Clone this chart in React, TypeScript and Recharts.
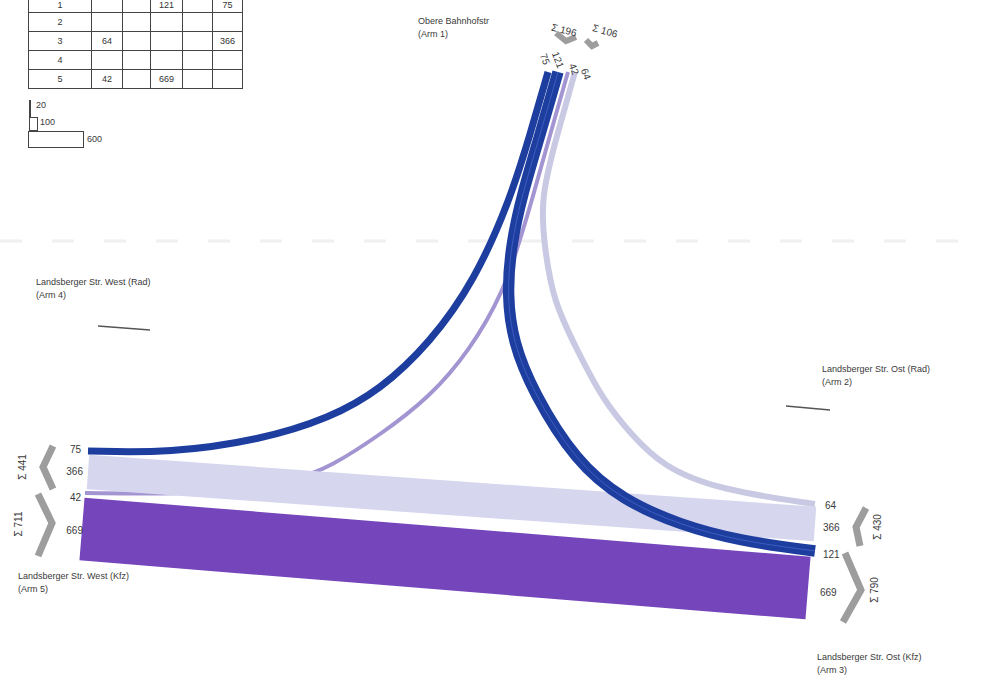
import React from 'react';
import { ComposedChart, XAxis, YAxis, Line, ReferenceLine } from 'recharts';

// count table (row = from arm, column = to arm)
const tableRows = ['1', '2', '3', '4', '5'];
const tableValues: (number | null)[][] = [
  [null, null, 121, null, 75],
  [null, null, null, null, null],
  [64, null, null, null, 366],
  [null, null, null, null, null],
  [42, null, 669, null, null],
];

// flows between arms
const flow13 = 121;
const flow15 = 75;
const flow31 = 64;
const flow35 = 366;
const flow51 = 42;
const flow53 = 669;

// scale legend values
const legendValues = [20, 100, 600];

// centre lines of each flow band, page pixels
const route15 = [
  [548, 72], [530, 135], [510, 200], [475, 280], [430, 343], [380, 390],
  [330, 418], [260, 440], [170, 453], [88, 451],
];
const route13 = [
  [558, 72], [540, 135], [522, 195], [511, 245], [507, 295], [513, 342],
  [533, 392], [576, 462], [623, 500], [680, 525], [740, 541], [815, 551],
];
const route31 = [
  [575, 72], [557, 135], [540, 200], [545, 250], [553, 300], [577, 350],
  [603, 400], [630, 433], [663, 467], [720, 490], [815, 504],
];
const route51 = [
  [85, 493], [180, 494], [250, 490], [300, 478], [330, 467], [380, 435],
  [430, 397], [470, 350], [503, 293], [520, 240], [532, 200], [550, 135], [568, 72],
];
const route35 = [[88, 472], [815, 524]];
const route53 = [[82, 529], [808, 588]];

// grey direction brackets
const bracketW441 = [[53, 446], [43, 467], [53, 489]];
const bracketW711 = [[38, 494], [52, 523], [38, 556]];
const bracketO430 = [[866, 508], [856, 527], [860, 546]];
const bracketO790 = [[845, 553], [861, 590], [843, 622]];
const bracketN196 = [[556, 33], [566, 41], [576, 37]];
const bracketN106 = [[586, 40], [592, 46], [598, 43]];
const radW = [[98, 326], [150, 330]];
const radO = [[786, 406], [830, 410]];

const PX = 0.094;

const pts = (r: number[][]) => r.map(([x, y]) => ({ x, y }));

const T: React.FC<{ x: number; y: number; rot?: number; size?: number; align?: string; children: React.ReactNode }> = ({ x, y, rot = 0, size = 10, align = 'center', children }) => {
  const tx = align === 'center' ? '-50%' : align === 'right' ? '-100%' : '0';
  return (
    <div
      style={{
        position: 'absolute',
        left: x,
        top: y,
        transform: `translate(${tx}, -50%) rotate(${rot}deg)`,
        fontSize: size,
        color: '#3a3a3a',
        whiteSpace: 'nowrap',
        lineHeight: 1.1,
      }}
    >
      {children}
    </div>
  );
};

const colW = [63, 31, 28, 32, 30, 30];

export default function App() {
  const flowLine = (key: string, r: number[][], v: number, color: string) => (
    <Line
      key={key}
      data={pts(r)}
      dataKey="y"
      type={r.length > 2 ? 'basis' : 'linear'}
      stroke={color}
      strokeWidth={v * PX}
      dot={false}
      activeDot={false}
      isAnimationActive={false}
    />
  );
  const bracket = (key: string, r: number[][], w = 7) => (
    <Line
      key={key}
      data={pts(r)}
      dataKey="y"
      type="linear"
      stroke="#9d9d9d"
      strokeWidth={w}
      dot={false}
      activeDot={false}
      isAnimationActive={false}
    />
  );
  const cell: React.CSSProperties = { border: '1px solid #444', textAlign: 'center', padding: 0, overflow: 'hidden' };
  return (
    <div style={{ position: 'absolute', left: 0, top: 0, width: 986, height: 680, fontFamily: '"Liberation Sans", Arial, sans-serif', background: '#fff', overflow: 'hidden' }}>
      <ComposedChart width={986} height={680} margin={{ top: 0, right: 0, bottom: 0, left: 0 }}>
        <XAxis type="number" dataKey="x" domain={[0, 986]} hide allowDataOverflow height={0} />
        <YAxis type="number" domain={[0, 680]} reversed hide allowDataOverflow width={0} />
        <ReferenceLine y={241} stroke="#f0f0f0" strokeWidth={3} strokeDasharray="22 30" />
        {flowLine('51', route51, flow51, '#a394d2')}
        {flowLine('35', route35, flow35, '#d6d6ee')}
        {flowLine('53', route53, flow53, '#7445bb')}
        {flowLine('31', route31, flow31, '#c9c9e3')}
        {flowLine('15', route15, flow15, '#1d3d9f')}
        {flowLine('13', route13, flow13, '#1d3d9f')}
        <Line data={pts(route13)} dataKey="y" type="basis" stroke="#5a7de0" strokeOpacity={0.5} strokeWidth={1} dot={false} activeDot={false} isAnimationActive={false} />
        {bracket('b1', bracketW441)}
        {bracket('b2', bracketW711)}
        {bracket('b3', bracketO430)}
        {bracket('b4', bracketO790)}
        {bracket('b5', bracketN196, 6)}
        {bracket('b6', bracketN106, 6)}
        <Line data={pts(radW)} dataKey="y" type="linear" stroke="#555" strokeWidth={1.5} dot={false} activeDot={false} isAnimationActive={false} />
        <Line data={pts(radO)} dataKey="y" type="linear" stroke="#555" strokeWidth={1.5} dot={false} activeDot={false} isAnimationActive={false} />
      </ComposedChart>

      {/* count table, its top edge runs off the page */}
      <table style={{ position: 'absolute', left: 28, top: -4, width: 214, tableLayout: 'fixed', borderCollapse: 'collapse', fontSize: 9, color: '#333' }}>
        <colgroup>
          {colW.map((w, i) => <col key={i} style={{ width: w }} />)}
        </colgroup>
        <tbody>
          {tableRows.map((r, i) => (
            <tr key={r} style={{ height: i === 0 ? 16 : 19 }}>
              <td style={cell}>{r}</td>
              {tableValues[i].map((v, j) => (
                <td key={j} style={cell}>{v ?? ''}</td>
              ))}
            </tr>
          ))}
        </tbody>
      </table>

      {/* scale legend */}
      <div style={{ position: 'absolute', left: 29, top: 100, width: legendValues[0] * PX, height: 17, background: '#444' }} />
      <div style={{ position: 'absolute', left: 29, top: 117, width: legendValues[1] * PX, height: 14, border: '1px solid #444', boxSizing: 'border-box' }} />
      <div style={{ position: 'absolute', left: 28, top: 131, width: legendValues[2] * PX, height: 17, border: '1px solid #444', boxSizing: 'border-box' }} />
      <T x={36} y={106} align="left" size={9}>{legendValues[0]}</T>
      <T x={40} y={123} align="left" size={9}>{legendValues[1]}</T>
      <T x={87} y={140} align="left" size={9}>{legendValues[2]}</T>

      {/* arm names */}
      <T x={418} y={22} align="left" size={9}>Obere Bahnhofstr</T>
      <T x={418} y={35} align="left" size={9}>(Arm 1)</T>
      <T x={36} y={283} align="left" size={9}>Landsberger Str. West (Rad)</T>
      <T x={36} y={296} align="left" size={9}>(Arm 4)</T>
      <T x={822} y={370} align="left" size={9}>Landsberger Str. Ost (Rad)</T>
      <T x={822} y={383} align="left" size={9}>(Arm 2)</T>
      <T x={18} y={577} align="left" size={9}>Landsberger Str. West (Kfz)</T>
      <T x={18} y={590} align="left" size={9}>(Arm 5)</T>
      <T x={817} y={658} align="left" size={9}>Landsberger Str. Ost (Kfz)</T>
      <T x={817} y={671} align="left" size={9}>(Arm 3)</T>

      {/* flow values, west */}
      <T x={81} y={449} align="right">{flow15}</T>
      <T x={83} y={471} align="right">{flow35}</T>
      <T x={81} y={497} align="right">{flow51}</T>
      <T x={83} y={530} align="right">{flow53}</T>
      <T x={22} y={467} rot={-90}>Σ {flow15 + flow35}</T>
      <T x={18} y={524} rot={-90}>Σ {flow51 + flow53}</T>

      {/* flow values, east */}
      <T x={825} y={505} align="left">{flow31}</T>
      <T x={823} y={527} align="left">{flow35}</T>
      <T x={823} y={554} align="left">{flow13}</T>
      <T x={820} y={592} align="left">{flow53}</T>
      <T x={877} y={527} rot={-90}>Σ {flow31 + flow35}</T>
      <T x={874} y={590} rot={-90}>Σ {flow13 + flow53}</T>

      {/* flow values, north */}
      <T x={545} y={59} rot={70}>{flow15}</T>
      <T x={558} y={60} rot={70}>{flow13}</T>
      <T x={574} y={69} rot={70}>{flow51}</T>
      <T x={586} y={74} rot={70}>{flow31}</T>
      <T x={564} y={30} rot={14}>Σ {flow13 + flow15}</T>
      <T x={605} y={31} rot={16}>Σ {flow51 + flow31}</T>
    </div>
  );
}
